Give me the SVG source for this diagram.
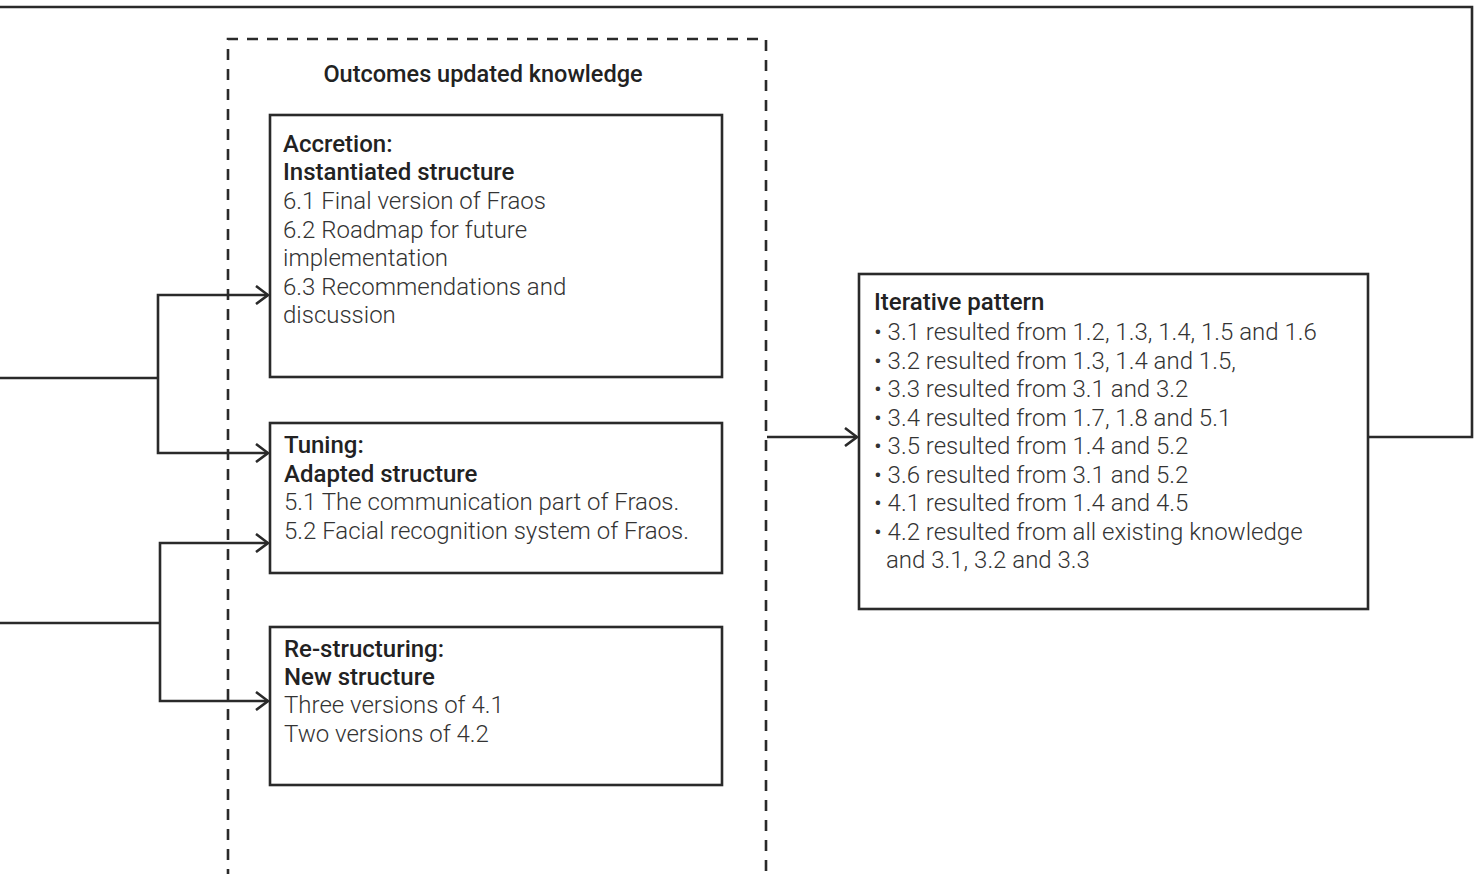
<svg xmlns="http://www.w3.org/2000/svg" width="1482" height="874" viewBox="0 0 1482 874">
  <defs>
    <marker id="chev" viewBox="0 0 14 20" refX="13" refY="10" markerWidth="14" markerHeight="20" markerUnits="userSpaceOnUse" orient="auto">
      <path d="M1,1 L13,10 L1,19" fill="none" stroke="#2a2a2a" stroke-width="2.6"/>
    </marker>
    <style>
      .box { fill: #ffffff; stroke: #2a2a2a; stroke-width: 2.6; }
      .frame { fill: none; stroke: #2a2a2a; stroke-width: 2.6; stroke-dasharray: 11 9; }
      .line { fill: none; stroke: #2a2a2a; stroke-width: 2.6; }
      .arrow { fill: none; stroke: #2a2a2a; stroke-width: 2.6; marker-end: url(#chev); }
      .head { font-family: Roboto, "Liberation Sans", sans-serif; font-weight: 500; font-size: 24px; fill: #222222; }
      .body { font-family: Roboto, "Liberation Sans", sans-serif; font-weight: 300; font-size: 24px; fill: #333333; }
      .caption { font-family: Roboto, "Liberation Sans", sans-serif; font-weight: 500; font-size: 23.5px; fill: #222222; }
    </style>
  </defs>

  <!-- dashed frame around the outcomes column -->
  <g id="outcomes-frame">
    <path class="frame" d="M228,880 L228,39 L766,39 L766,880"/>
    <text class="caption" x="483" y="82" text-anchor="middle">Outcomes updated knowledge</text>
  </g>

  <!-- connectors -->
  <g id="connectors">
    <!-- feedback loop from the iterative pattern back across the top -->
    <path class="line" d="M1368,437 L1472,437 L1472,7 L0,7"/>
    <!-- upper fork -->
    <path class="line" d="M0,378 L158,378"/>
    <path class="arrow" d="M158,378 L158,295 L268,295"/>
    <path class="arrow" d="M158,378 L158,453 L268,453"/>
    <!-- lower fork -->
    <path class="line" d="M0,623 L160,623"/>
    <path class="arrow" d="M160,623 L160,543 L268,543"/>
    <path class="arrow" d="M160,623 L160,701 L268,701"/>
    <!-- outcomes to iterative pattern -->
    <path class="arrow" d="M767,437 L857,437"/>
  </g>

  <g id="accretion">
    <rect class="box" x="270" y="115" width="452" height="262"/>
    <text class="head" x="283" y="152">Accretion:</text>
    <text class="head" x="283" y="180">Instantiated structure</text>
    <text class="body" x="283" y="209">6.1 Final version of Fraos</text>
    <text class="body" x="283" y="238">6.2 Roadmap for future</text>
    <text class="body" x="283" y="266">implementation</text>
    <text class="body" x="283" y="295">6.3 Recommendations and</text>
    <text class="body" x="283" y="323">discussion</text>
  </g>

  <g id="tuning">
    <rect class="box" x="270" y="423" width="452" height="150"/>
    <text class="head" x="284" y="453">Tuning:</text>
    <text class="head" x="284" y="482">Adapted structure</text>
    <text class="body" x="284" y="510">5.1 The communication part of Fraos.</text>
    <text class="body" x="284" y="539">5.2 Facial recognition system of Fraos.</text>
  </g>

  <g id="restructuring">
    <rect class="box" x="270" y="627" width="452" height="158"/>
    <text class="head" x="284" y="657">Re-structuring:</text>
    <text class="head" x="284" y="685">New structure</text>
    <text class="body" x="284" y="713">Three versions of 4.1</text>
    <text class="body" x="284" y="742">Two versions of 4.2</text>
  </g>

  <g id="iterative-pattern">
    <rect class="box" x="859" y="274" width="509" height="335"/>
    <text class="head" x="874" y="310">Iterative pattern</text>
    <text class="body" x="874" y="340">• 3.1 resulted from 1.2, 1.3, 1.4, 1.5 and 1.6</text>
    <text class="body" x="874" y="369">• 3.2 resulted from 1.3, 1.4 and 1.5,</text>
    <text class="body" x="874" y="397">• 3.3 resulted from 3.1 and 3.2</text>
    <text class="body" x="874" y="426">• 3.4 resulted from 1.7, 1.8 and 5.1</text>
    <text class="body" x="874" y="454">• 3.5 resulted from 1.4 and 5.2</text>
    <text class="body" x="874" y="483">• 3.6 resulted from 3.1 and 5.2</text>
    <text class="body" x="874" y="511">• 4.1 resulted from 1.4 and 4.5</text>
    <text class="body" x="874" y="540">• 4.2 resulted from all existing knowledge</text>
    <text class="body" x="886" y="568">and 3.1, 3.2 and 3.3</text>
  </g>
</svg>
